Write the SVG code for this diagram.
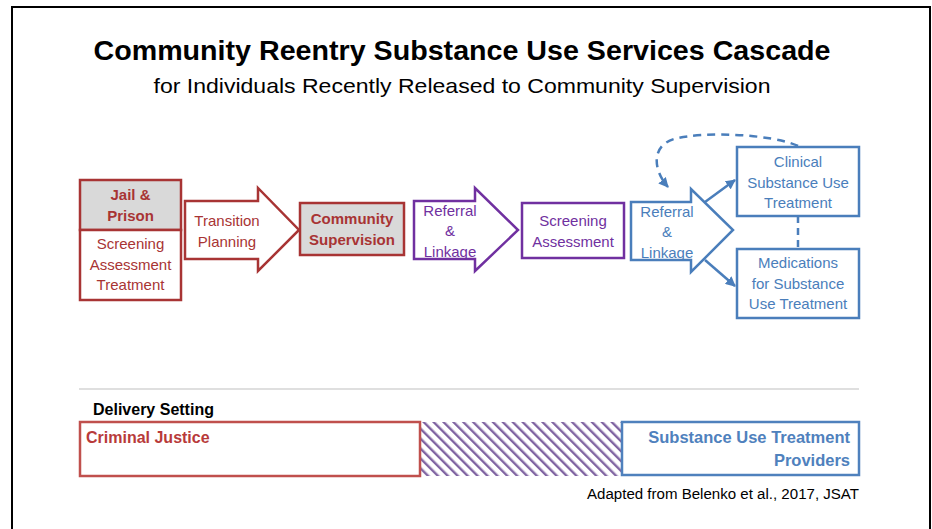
<svg xmlns="http://www.w3.org/2000/svg" width="932" height="529" viewBox="0 0 932 529">
<defs>
<style>
text{font-family:"Liberation Sans","Open Sans",Arial,sans-serif;}
.red{fill:#A83434;}
.pur{fill:#7030A0;}
.blu{fill:#4A7EBB;}
.c{text-anchor:middle;font-size:15px;}
.b{font-weight:bold;}
.rs{stroke:#A83434;stroke-width:2.5;}
.ps{stroke:#7030A0;stroke-width:2.5;fill:#fff;}
.bs{stroke:#4A7EBB;stroke-width:2.5;fill:#fff;}
</style>
<marker id="ah" viewBox="0 0 10 10" refX="9" refY="5" markerWidth="4" markerHeight="4" orient="auto-start-reverse" markerUnits="strokeWidth">
<path d="M0,0 L10,5 L0,10 z" fill="#4A7EBB"/>
</marker>
<pattern id="hatch" patternUnits="userSpaceOnUse" width="7" height="7" patternTransform="rotate(-45)">
<rect x="0" y="0" width="2.4" height="7" fill="#8064A2"/>
</pattern>
</defs>
<rect x="0" y="0" width="932" height="529" fill="#fff"/>
<rect x="12" y="7" width="918" height="540" fill="none" stroke="#000" stroke-width="2"/>
<text x="462" y="60" text-anchor="middle" font-size="27" font-weight="bold" textLength="737" lengthAdjust="spacingAndGlyphs">Community Reentry Substance Use Services Cascade</text>
<text x="462" y="93" text-anchor="middle" font-size="21" textLength="617" lengthAdjust="spacingAndGlyphs">for Individuals Recently Released to Community Supervision</text>

<g id="jail">
<rect x="80" y="180" width="101" height="50" fill="#D9D9D9" class="rs"/>
<rect x="80" y="230" width="101" height="70" fill="#fff" class="rs"/>
<text x="130.5" y="200" class="c b red">Jail &amp;</text>
<text x="130.5" y="221" class="c b red">Prison</text>
<text x="130.5" y="249" class="c red">Screening</text>
<text x="130.5" y="270" class="c red">Assessment</text>
<text x="130.5" y="290" class="c red">Treatment</text>
</g>
<g id="transition">
<path d="M185,201 L258,201 L258,188 L299,230 L258,271 L258,259 L185,259 z" fill="#fff" class="rs"/>
<text x="227" y="226" class="c red">Transition</text>
<text x="227" y="247" class="c red">Planning</text>
</g>
<g id="community">
<rect x="300" y="203" width="104" height="52" fill="#D9D9D9" class="rs"/>
<text x="352" y="224" class="c b red">Community</text>
<text x="352" y="245" class="c b red">Supervision</text>
</g>
<g id="referral1">
<path d="M414,201 L475,201 L475,188 L518,230 L475,271 L475,259 L414,259 z" class="ps"/>
<text x="450" y="216" class="c pur">Referral</text>
<text x="450" y="236" class="c pur">&amp;</text>
<text x="450" y="257" class="c pur">Linkage</text>
</g>
<g id="screening">
<rect x="522" y="203" width="102" height="55" class="ps"/>
<text x="573" y="226" class="c pur">Screening</text>
<text x="573" y="247" class="c pur">Assessment</text>
</g>
<g id="referral2">
<path d="M631,202 L691,202 L691,189 L733,230 L691,272 L691,260 L631,260 z" class="bs"/>
<text x="667" y="217" class="c blu">Referral</text>
<text x="667" y="237" class="c blu">&amp;</text>
<text x="667" y="258" class="c blu">Linkage</text>
</g>
<g id="clinical">
<rect x="737" y="147" width="122" height="69" class="bs"/>
<text x="798" y="167" class="c blu">Clinical</text>
<text x="798" y="188" class="c blu">Substance Use</text>
<text x="798" y="208" class="c blu">Treatment</text>
</g>
<g id="medications">
<rect x="737" y="249" width="122" height="69" class="bs"/>
<text x="798" y="268" class="c blu">Medications</text>
<text x="798" y="289" class="c blu">for Substance</text>
<text x="798" y="309" class="c blu">Use Treatment</text>
</g>
<g id="connectors" fill="none" stroke="#4A7EBB" stroke-width="2.5">
<line x1="705" y1="202" x2="735" y2="180" marker-end="url(#ah)"/>
<line x1="705" y1="260" x2="735" y2="286" marker-end="url(#ah)"/>
<line x1="798" y1="216" x2="798" y2="249" stroke-dasharray="7,5"/>
<path d="M798,146 C772,134 704,131 674,139 C651,146 653,170 668,187" stroke-dasharray="8,6" marker-end="url(#ah)"/>
</g>

<line x1="79" y1="389" x2="859" y2="389" stroke="#BFBFBF" stroke-width="1.2"/>
<text x="93" y="415" font-size="16" font-weight="bold">Delivery Setting</text>
<g id="setting">
<rect x="420" y="422" width="202" height="54" fill="url(#hatch)"/>
<rect x="80" y="422" width="340" height="54" fill="#fff" stroke="#C0504D" stroke-width="2.5"/>
<text x="86" y="443" font-size="16" font-weight="bold" fill="#B83A3A">Criminal Justice</text>
<rect x="622" y="422" width="237" height="53" fill="#fff" stroke="#4F81BD" stroke-width="2.5"/>
<text x="850" y="443" font-size="16.5" font-weight="bold" fill="#4F81BD" text-anchor="end">Substance Use Treatment</text>
<text x="850" y="466" font-size="16.5" font-weight="bold" fill="#4F81BD" text-anchor="end">Providers</text>
</g>
<text x="859" y="499" font-size="14" text-anchor="end" textLength="272" lengthAdjust="spacingAndGlyphs">Adapted from Belenko et al., 2017, JSAT</text>
</svg>
